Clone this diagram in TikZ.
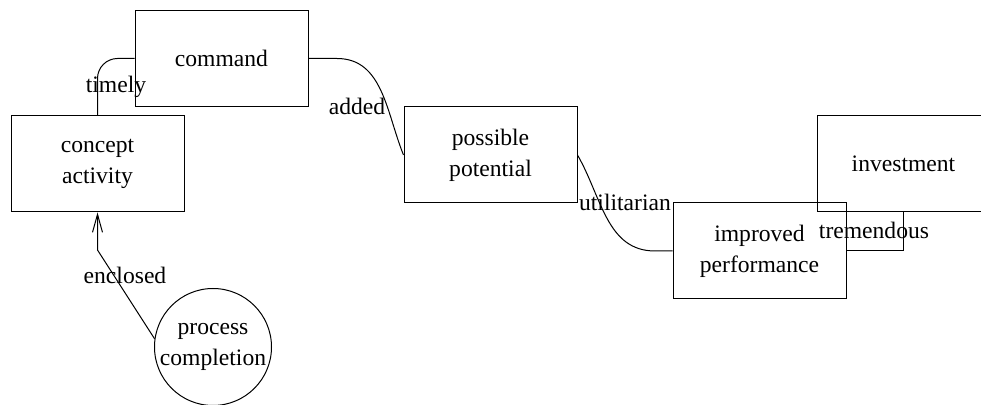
\documentclass[tikz,border=0pt]{standalone}
\usepackage{fontspec}
\setmainfont{Liberation Serif}
\usetikzlibrary{arrows.meta,positioning}

\begin{document}
\begin{tikzpicture}[x=0.5pt, y=-0.5pt, >={Straight Barb[length=9pt,width=5pt]}, line width=0.5pt,
  every node/.style={font=\fontsize{11.8}{15.5}\selectfont},
  box/.style={draw, minimum width=86.5pt, minimum height=48pt, align=center, inner sep=0pt},
  circ/.style={draw, circle, minimum size=58.5pt, align=center, inner sep=0pt},
  lbl/.style={inner sep=0pt}]
\clip (0,0) rectangle (981,405);
\node[box] (concept) at (97.5,164) {concept\\activity}; \node[box] (command) at (221.5,58.5) {command};
\node[box] (possible) at (490.5,155) {possible\\potential}; \node[box] (improved) at (759.5,251) {improved\\performance};
\node[box] (invest) at (903.5,164) {investment}; \node[circ] (process) at (213,347) {process\\completion};
\coordinate (aBend) at (337,58.5); \coordinate (uBend) at (655,251); \coordinate (eBend) at (97.5,250);
\draw[rounded corners=10pt] (concept.north) |- (command.west);
\draw (command.east) -- (aBend) to[out=0,in=112] (possible.west);
\draw (possible.east) to[out=-60,in=180] (uBend) -- (improved.west);
\draw (improved.east) -| (invest.south);
\draw[->] (process.172) -- (eBend) -- (concept.south);
\node[lbl] (timely) at (116,87) {timely}; \node[lbl] (added) at (357,106) {added};
\node[lbl] (utilitarian) at (625,202) {utilitarian}; \node[lbl] (tremendous) at (874,230) {tremendous};
\node[lbl] (enclosed) at (125,275) {enclosed};
\end{tikzpicture}
\end{document}
